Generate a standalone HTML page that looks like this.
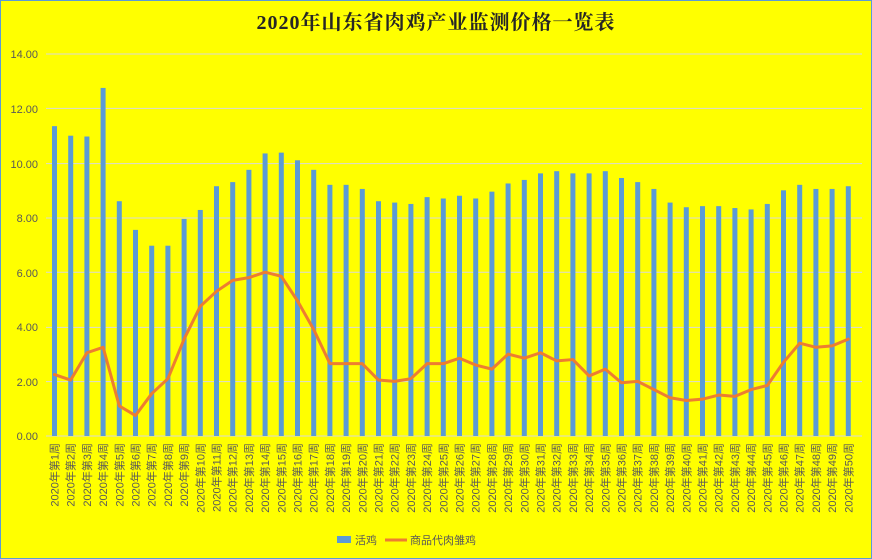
<!DOCTYPE html>
<html><head><meta charset="utf-8"><style>
html,body{margin:0;padding:0;background:#ffff00;}
svg{display:block;}
text{font-family:"Liberation Sans","Noto Sans CJK SC",sans-serif;}
</style></head><body>
<svg width="872" height="559" viewBox="0 0 872 559" xmlns="http://www.w3.org/2000/svg">
<rect x="0.5" y="0.5" width="871" height="558" fill="#ffff00" stroke="#5b9bd5"/>
<text x="436" y="29" text-anchor="middle" font-size="20" font-weight="bold" letter-spacing="1" fill="#262626" style="font-family:'Liberation Serif','Noto Serif CJK SC',serif">2020年山东省肉鸡产业监测价格一览表</text>
<g stroke="#d9d9d9" stroke-width="1">
<line x1="46" x2="862" y1="54" y2="54"/><line x1="46" x2="862" y1="108.4" y2="108.4"/><line x1="46" x2="862" y1="163.6" y2="163.6"/><line x1="46" x2="862" y1="218" y2="218"/><line x1="46" x2="862" y1="272.2" y2="272.2"/><line x1="46" x2="862" y1="327.4" y2="327.4"/><line x1="46" x2="862" y1="381.6" y2="381.6"/><line x1="46" x2="862" y1="436" y2="436"/>
</g>
<g font-size="11" fill="#595959" text-anchor="end">
<text x="38" y="58">14.00</text><text x="38" y="113">12.00</text><text x="38" y="168">10.00</text><text x="38" y="222">8.00</text><text x="38" y="277">6.00</text><text x="38" y="331">4.00</text><text x="38" y="386">2.00</text><text x="38" y="440">0.00</text>
</g>
<g transform="translate(0,436) scale(1,-27.3)" fill="#5b9bd5">
<rect x="52" width="5" y="0" height="11.35"/><rect x="68.2" width="5" y="0" height="11.0"/><rect x="84.4" width="5" y="0" height="10.97"/><rect x="100.6" width="5" y="0" height="12.75"/><rect x="116.8" width="5" y="0" height="8.6"/><rect x="133" width="5" y="0" height="7.55"/><rect x="149.2" width="5" y="0" height="6.97"/><rect x="165.4" width="5" y="0" height="6.97"/><rect x="181.6" width="5" y="0" height="7.95"/><rect x="197.8" width="5" y="0" height="8.28"/>
<rect x="214" width="5" y="0" height="9.15"/><rect x="230.2" width="5" y="0" height="9.3"/><rect x="246.4" width="5" y="0" height="9.75"/><rect x="262.6" width="5" y="0" height="10.35"/><rect x="278.8" width="5" y="0" height="10.38"/><rect x="295" width="5" y="0" height="10.1"/><rect x="311.2" width="5" y="0" height="9.75"/><rect x="327.4" width="5" y="0" height="9.2"/><rect x="343.6" width="5" y="0" height="9.2"/><rect x="359.8" width="5" y="0" height="9.05"/>
<rect x="376" width="5" y="0" height="8.6"/><rect x="392.2" width="5" y="0" height="8.55"/><rect x="408.4" width="5" y="0" height="8.5"/><rect x="424.6" width="5" y="0" height="8.75"/><rect x="440.8" width="5" y="0" height="8.7"/><rect x="457" width="5" y="0" height="8.8"/><rect x="473.2" width="5" y="0" height="8.7"/><rect x="489.4" width="5" y="0" height="8.95"/><rect x="505.6" width="5" y="0" height="9.25"/><rect x="521.8" width="5" y="0" height="9.38"/>
<rect x="538" width="5" y="0" height="9.62"/><rect x="554.2" width="5" y="0" height="9.7"/><rect x="570.4" width="5" y="0" height="9.62"/><rect x="586.6" width="5" y="0" height="9.62"/><rect x="602.8" width="5" y="0" height="9.7"/><rect x="619" width="5" y="0" height="9.45"/><rect x="635.2" width="5" y="0" height="9.3"/><rect x="651.4" width="5" y="0" height="9.05"/><rect x="667.6" width="5" y="0" height="8.55"/><rect x="683.8" width="5" y="0" height="8.38"/>
<rect x="700" width="5" y="0" height="8.42"/><rect x="716.2" width="5" y="0" height="8.42"/><rect x="732.4" width="5" y="0" height="8.35"/><rect x="748.6" width="5" y="0" height="8.3"/><rect x="764.8" width="5" y="0" height="8.5"/><rect x="781" width="5" y="0" height="9.0"/><rect x="797.2" width="5" y="0" height="9.2"/><rect x="813.4" width="5" y="0" height="9.05"/><rect x="829.6" width="5" y="0" height="9.05"/><rect x="845.8" width="5" y="0" height="9.15"/>
<polyline fill="none" stroke="#ed7d31" stroke-width="3" stroke-linejoin="round" stroke-linecap="round" vector-effect="non-scaling-stroke" points="54.5,2.25 70.7,2.05 86.9,3.05 103.1,3.25 119.3,1.1 135.5,0.75 151.7,1.55 167.9,2.1 184.1,3.55 200.3,4.75 216.5,5.3 232.7,5.7 248.9,5.8 265.1,6.0 281.3,5.85 297.5,4.95 313.7,3.9 329.9,2.65 346.1,2.65 362.3,2.65 378.5,2.05 394.7,2.0 410.9,2.1 427.1,2.65 443.3,2.65 459.5,2.85 475.7,2.6 491.9,2.45 508.1,3.0 524.3,2.85 540.5,3.05 556.7,2.75 572.9,2.8 589.1,2.2 605.3,2.45 621.5,1.95 637.7,2.0 653.9,1.7 670.1,1.4 686.3,1.3 702.5,1.35 718.7,1.5 734.9,1.45 751.1,1.7 767.3,1.85 783.5,2.7 799.7,3.4 815.9,3.25 832.1,3.3 848.3,3.55"/>
</g>
<g font-size="11" fill="#595959" text-anchor="end">
<text transform="translate(58.5,443) rotate(-90)">2020年第1周</text><text transform="translate(74.7,443) rotate(-90)">2020年第2周</text><text transform="translate(90.9,443) rotate(-90)">2020年第3周</text><text transform="translate(107.1,443) rotate(-90)">2020年第4周</text><text transform="translate(123.3,443) rotate(-90)">2020年第5周</text><text transform="translate(139.5,443) rotate(-90)">2020年第6周</text><text transform="translate(155.7,443) rotate(-90)">2020年第7周</text><text transform="translate(171.9,443) rotate(-90)">2020年第8周</text><text transform="translate(188.1,443) rotate(-90)">2020年第9周</text><text transform="translate(204.3,443) rotate(-90)">2020年第10周</text>
<text transform="translate(220.5,443) rotate(-90)">2020年第11周</text><text transform="translate(236.7,443) rotate(-90)">2020年第12周</text><text transform="translate(252.9,443) rotate(-90)">2020年第13周</text><text transform="translate(269.1,443) rotate(-90)">2020年第14周</text><text transform="translate(285.3,443) rotate(-90)">2020年第15周</text><text transform="translate(301.5,443) rotate(-90)">2020年第16周</text><text transform="translate(317.7,443) rotate(-90)">2020年第17周</text><text transform="translate(333.9,443) rotate(-90)">2020年第18周</text><text transform="translate(350.1,443) rotate(-90)">2020年第19周</text><text transform="translate(366.3,443) rotate(-90)">2020年第20周</text>
<text transform="translate(382.5,443) rotate(-90)">2020年第21周</text><text transform="translate(398.7,443) rotate(-90)">2020年第22周</text><text transform="translate(414.9,443) rotate(-90)">2020年第23周</text><text transform="translate(431.1,443) rotate(-90)">2020年第24周</text><text transform="translate(447.3,443) rotate(-90)">2020年第25周</text><text transform="translate(463.5,443) rotate(-90)">2020年第26周</text><text transform="translate(479.7,443) rotate(-90)">2020年第27周</text><text transform="translate(495.9,443) rotate(-90)">2020年第28周</text><text transform="translate(512.1,443) rotate(-90)">2020年第29周</text><text transform="translate(528.3,443) rotate(-90)">2020年第30周</text>
<text transform="translate(544.5,443) rotate(-90)">2020年第31周</text><text transform="translate(560.7,443) rotate(-90)">2020年第32周</text><text transform="translate(576.9,443) rotate(-90)">2020年第33周</text><text transform="translate(593.1,443) rotate(-90)">2020年第34周</text><text transform="translate(609.3,443) rotate(-90)">2020年第35周</text><text transform="translate(625.5,443) rotate(-90)">2020年第36周</text><text transform="translate(641.7,443) rotate(-90)">2020年第37周</text><text transform="translate(657.9,443) rotate(-90)">2020年第38周</text><text transform="translate(674.1,443) rotate(-90)">2020年第39周</text><text transform="translate(690.3,443) rotate(-90)">2020年第40周</text>
<text transform="translate(706.5,443) rotate(-90)">2020年第41周</text><text transform="translate(722.7,443) rotate(-90)">2020年第42周</text><text transform="translate(738.9,443) rotate(-90)">2020年第43周</text><text transform="translate(755.1,443) rotate(-90)">2020年第44周</text><text transform="translate(771.3,443) rotate(-90)">2020年第45周</text><text transform="translate(787.5,443) rotate(-90)">2020年第46周</text><text transform="translate(803.7,443) rotate(-90)">2020年第47周</text><text transform="translate(819.9,443) rotate(-90)">2020年第48周</text><text transform="translate(836.1,443) rotate(-90)">2020年第49周</text><text transform="translate(852.3,443) rotate(-90)">2020年第50周</text>
</g>
<rect x="337" y="536" width="14" height="7" fill="#5b9bd5"/>
<text x="355" y="544" font-size="11" fill="#595959">活鸡</text>
<line x1="385" x2="407" y1="540" y2="540" stroke="#ed7d31" stroke-width="3"/>
<text x="410" y="544" font-size="11" fill="#595959">商品代肉雏鸡</text>
</svg>
</body></html>
